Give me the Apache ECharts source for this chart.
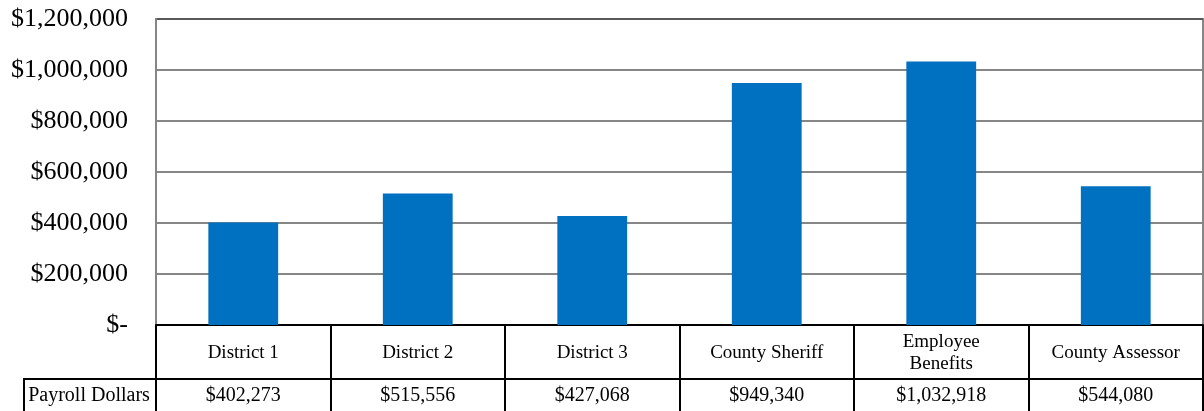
<!DOCTYPE html>
<html>
<head>
<meta charset="utf-8">
<script src="https://cdn.jsdelivr.net/npm/echarts@6/dist/echarts.min.js"></script>
<style>
  html, body { margin: 0; padding: 0; background: #fff; }
  #chart { width: 1204px; height: 411px; }
</style>
</head>
<body>
<div id="chart"></div>
<script>
// Payroll dollars by department
const categories = ['District 1', 'District 2', 'District 3', 'County Sheriff', 'Employee\nBenefits', 'County Assessor'];
const payroll = [402273, 515556, 427068, 949340, 1032918, 544080];
const rowLabel = 'Payroll Dollars';

const FONT = '"Liberation Serif", "Times New Roman", serif';
const money = v => '$' + v.toLocaleString('en-US');

const chart = echarts.init(document.getElementById('chart'), null, { renderer: 'canvas' });

const gridLeft = 156, gridTop = 19, gridRight = 1, gridBottom = 86;
const catRow = 54;

chart.setOption({
  animation: false,
  backgroundColor: '#fff',
  grid: {
    left: gridLeft, right: gridRight, top: gridTop, bottom: gridBottom,
    show: true, borderColor: '#868686', borderWidth: 2, containLabel: false
  },
  xAxis: [
    {
      type: 'category',
      data: categories,
      position: 'bottom',
      axisLine: { show: true, lineStyle: { color: '#000', width: 2 } },
      axisTick: { show: true, interval: 0, length: catRow, lineStyle: { color: '#000', width: 2 } },
      axisLabel: {
        interval: 0, margin: 28, verticalAlign: 'middle', lineHeight: 22,
        fontFamily: FONT, fontSize: 19, color: '#000'
      },
      splitLine: { show: false }
    },
    {
      type: 'category',
      data: categories,
      position: 'bottom',
      offset: catRow,
      axisLine: { show: true, lineStyle: { color: '#000', width: 2 } },
      axisTick: { show: true, interval: 0, length: 40, lineStyle: { color: '#000', width: 2 } },
      axisLabel: {
        interval: 0, margin: 17, verticalAlign: 'middle',
        fontFamily: FONT, fontSize: 20, color: '#000',
        formatter: (v, i) => money(payroll[i])
      },
      splitLine: { show: false }
    }
  ],
  yAxis: {
    type: 'value',
    min: 0, max: 1200000, interval: 200000,
    axisLine: { show: true, lineStyle: { color: '#868686', width: 2 } },
    axisTick: { show: false },
    axisLabel: {
      margin: 28, fontFamily: FONT, fontSize: 26, color: '#000', padding: [3, 0, 0, 0],
      formatter: v => v === 0 ? '$-' : money(v)
    },
    splitLine: {
      show: true,
      lineStyle: { color: ['#868686', '#868686', '#868686', '#868686', '#868686', '#868686', '#595959'], width: 2 }
    }
  },
  series: [{
    type: 'bar',
    xAxisIndex: 0,
    data: payroll,
    barWidth: '40%',
    itemStyle: { color: '#0070C0' }
  }],
  graphic: [
    { type: 'line', shape: { x1: 23, y1: 379, x2: gridLeft, y2: 379 }, style: { stroke: '#000', lineWidth: 2 } },
    { type: 'line', shape: { x1: 24, y1: 379, x2: 24, y2: 420 }, style: { stroke: '#000', lineWidth: 2 } },
    {
      type: 'text', x: 89, y: 396,
      style: { text: rowLabel, fontFamily: FONT, fontSize: 20, fill: '#000', align: 'center', verticalAlign: 'middle' }
    }
  ]
});
</script>
</body>
</html>
